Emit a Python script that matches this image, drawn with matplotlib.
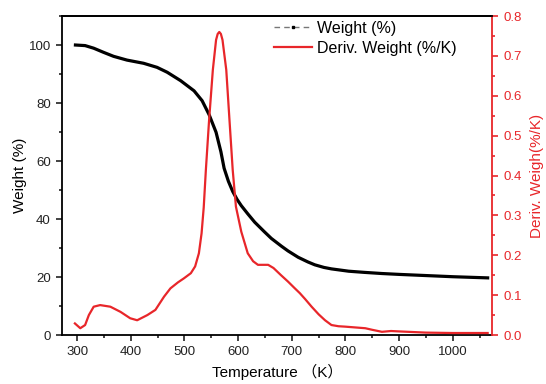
import numpy as np
import matplotlib
matplotlib.use("Agg")
import matplotlib.pyplot as plt
from matplotlib.lines import Line2D
from matplotlib.ticker import MultipleLocator, FormatStrFormatter

plt.rcParams["font.family"] = ["Liberation Sans", "Noto Sans CJK SC", "DejaVu Sans"]

# TGA weight curve
temp_w = [297, 315, 331, 349, 368, 393, 424, 449, 468, 493, 518, 533, 546, 559,
          568, 574, 582, 590, 598, 606, 618, 631, 649, 662, 681, 693, 712, 730,
          743, 760, 774, 790, 806, 835, 868, 900, 950, 1000, 1065]
weight = [100, 99.8, 98.9, 97.5, 96.1, 94.8, 93.7, 92.3, 90.6, 87.7, 84.2, 80.8,
          76.0, 69.9, 63.2, 57.5, 53.0, 49.5, 46.8, 44.6, 41.8, 38.9, 35.6, 33.3,
          30.6, 29.0, 26.8, 25.2, 24.2, 23.3, 22.8, 22.4, 22.0, 21.6, 21.2, 20.9,
          20.5, 20.1, 19.7]

# derivative curve
temp_d = [296, 306, 315, 322, 331, 343, 362, 381, 399, 412, 431, 446, 462, 474,
          488, 499, 512, 520, 527, 532, 536, 540, 546, 553, 559, 562, 565, 568,
          571, 578, 584, 590, 596, 606, 618, 628, 637, 647, 656, 666, 680, 693,
          705, 715, 725, 737, 750, 762, 774, 787, 799, 818, 837, 850, 868, 885,
          900, 950, 1000, 1065]
deriv = [0.029, 0.017, 0.025, 0.050, 0.071, 0.075, 0.071, 0.058, 0.042, 0.037,
         0.050, 0.063, 0.096, 0.117, 0.132, 0.142, 0.155, 0.172, 0.205, 0.255,
         0.320, 0.414, 0.539, 0.665, 0.740, 0.755, 0.760, 0.755, 0.740, 0.665,
         0.539, 0.414, 0.322, 0.259, 0.205, 0.185, 0.176, 0.176, 0.176, 0.168,
         0.150, 0.134, 0.118, 0.105, 0.090, 0.071, 0.052, 0.037, 0.025, 0.022,
         0.021, 0.019, 0.017, 0.013, 0.008, 0.010, 0.009, 0.006, 0.005, 0.005]

RED = "#e8262a"

fig = plt.figure(figsize=(5.46, 3.84), dpi=100)
ax = fig.add_axes([0.1136, 0.1276, 0.7874, 0.8307])
ax2 = ax.twinx()

ax.plot(temp_w, weight, color="black", lw=2.3, zorder=3)
ax2.plot(temp_d, deriv, color=RED, lw=1.6)

ax.set_xlim(272, 1073)
ax.set_ylim(0, 110)
ax2.set_ylim(0, 0.8)

ax.xaxis.set_major_locator(MultipleLocator(100))
ax.xaxis.set_minor_locator(MultipleLocator(50))
ax.yaxis.set_major_locator(MultipleLocator(20))
ax.yaxis.set_minor_locator(MultipleLocator(10))
ax2.yaxis.set_major_locator(MultipleLocator(0.1))
ax2.yaxis.set_minor_locator(MultipleLocator(0.05))
ax2.yaxis.set_major_formatter(FormatStrFormatter("%.1f"))

ax.tick_params(which="both", direction="out", labelsize=9.5, colors="#222222", width=1.2)
ax.tick_params(which="major", length=4.5)
ax.tick_params(which="minor", length=2.5)
ax2.tick_params(which="both", direction="out", labelsize=9.5, colors=RED, width=1.2)
ax2.tick_params(which="major", length=4.5)
ax2.tick_params(which="minor", length=2.5)

for a in (ax, ax2):
    for s in a.spines.values():
        s.set_linewidth(1.3)
ax2.spines["right"].set_color(RED)
ax2.spines["left"].set_visible(False)
ax2.spines["bottom"].set_visible(False)
ax.spines["right"].set_visible(False)

ax.set_xlabel("Temperature （K）", fontsize=11, labelpad=4)
ax.set_ylabel("Weight (%)", fontsize=11, labelpad=1)
ax2.set_ylabel("Deriv. Weigh(%/K)", fontsize=11, color=RED, labelpad=6)

# legend handles mimic the Origin style
handles = [
    Line2D([], [], color="#777777", lw=1, ls=(0, (4, 3)), marker="s", ms=2,
           mfc="black", mec="black"),
    Line2D([], [], color=RED, lw=1.6),
]
ax2.legend(handles, ["Weight (%)", "Deriv. Weight (%/K)"], loc="upper left",
           bbox_to_anchor=(0.46, 1.03), frameon=False, fontsize=11.5,
           handlelength=2.4, handletextpad=0.3, labelspacing=0.3, numpoints=1)

fig.savefig("out.png", dpi=100)
